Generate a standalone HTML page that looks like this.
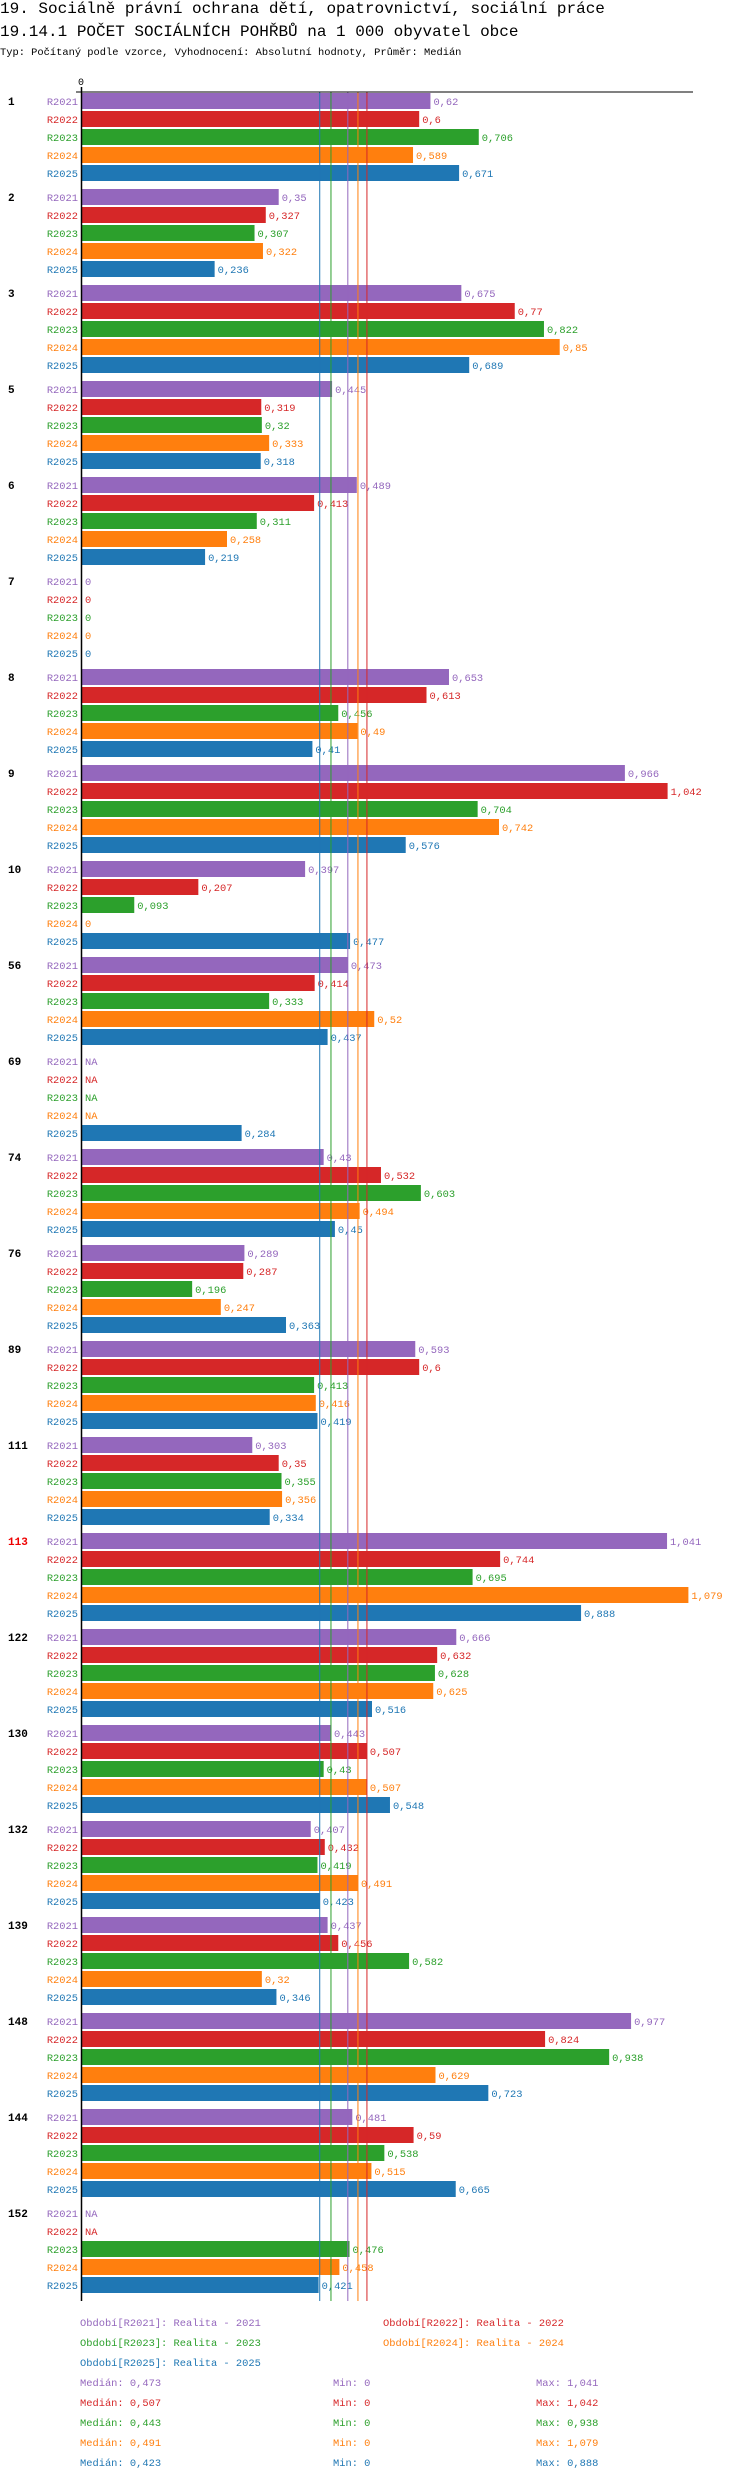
<!DOCTYPE html>
<html><head><meta charset="utf-8">
<style>
html,body{margin:0;padding:0;background:#fff;width:750px;height:2480px;overflow:hidden}
svg text{font-family:"Liberation Mono","DejaVu Sans Mono",monospace}
</style></head>
<body>
<svg id="chart" width="750" height="2480" xmlns="http://www.w3.org/2000/svg">
<text x="0" y="13" font-size="16">19. Sociálně právní ochrana dětí, opatrovnictví, sociální práce</text>
<text x="0" y="36" font-size="16">19.14.1 POČET SOCIÁLNÍCH POHŘBŮ na 1 000 obyvatel obce</text>
<text x="0" y="55" font-size="10.4">Typ: Počítaný podle vzorce, Vyhodnocení: Absolutní hodnoty, Průměr: Medián</text>
<text x="78" y="85" font-size="10">0</text>
<g id="bars"></g>
<g id="medians"></g>
<line x1="76" y1="92" x2="693" y2="92" stroke="#000" stroke-width="1"/>
<line x1="81.5" y1="87" x2="81.5" y2="2301" stroke="#000" stroke-width="1.5"/>
<g id="legend"></g>
</svg>
<script>
const groups = ["1","2","3","5","6","7","8","9","10","56","69","74","76","89","111","113","122","130","132","139","148","144","152"];
const series = ["R2021","R2022","R2023","R2024","R2025"];
const colors = ["#9467bd","#d62728","#2ca02c","#ff7f0e","#1f77b4"];
const v2021 = [0.62,0.35,0.675,0.445,0.489,0,0.653,0.966,0.397,0.473,null,0.43,0.289,0.593,0.303,1.041,0.666,0.443,0.407,0.437,0.977,0.481,null];
const v2022 = [0.6,0.327,0.77,0.319,0.413,0,0.613,1.042,0.207,0.414,null,0.532,0.287,0.6,0.35,0.744,0.632,0.507,0.432,0.456,0.824,0.59,null];
const v2023 = [0.706,0.307,0.822,0.32,0.311,0,0.456,0.704,0.093,0.333,null,0.603,0.196,0.413,0.355,0.695,0.628,0.43,0.419,0.582,0.938,0.538,0.476];
const v2024 = [0.589,0.322,0.85,0.333,0.258,0,0.49,0.742,0,0.52,null,0.494,0.247,0.416,0.356,1.079,0.625,0.507,0.491,0.32,0.629,0.515,0.458];
const v2025 = [0.671,0.236,0.689,0.318,0.219,0,0.41,0.576,0.477,0.437,0.284,0.45,0.363,0.419,0.334,0.888,0.516,0.548,0.423,0.346,0.723,0.665,0.421];
const medians = [0.473,0.507,0.443,0.491,0.423];
const mins = [0,0,0,0,0];
const maxs = [1.041,1.042,0.938,1.079,0.888];
const legendLabels = ["Období[R2021]: Realita - 2021","Období[R2022]: Realita - 2022","Období[R2023]: Realita - 2023","Období[R2024]: Realita - 2024","Období[R2025]: Realita - 2025"];

const NS="http://www.w3.org/2000/svg";
const X0=82, K=562, TOP=93, BAR_STEP=18, GROUP_STEP=96, BH=16;
const xs = v => X0 + v*K;
const fmt = v => String(v).replace('.',',');
const vals=[v2021,v2022,v2023,v2024,v2025];
function mk(tag,attrs,parent,txt){const e=document.createElementNS(NS,tag);for(const k in attrs)e.setAttribute(k,attrs[k]);if(txt!==undefined)e.textContent=txt;parent.appendChild(e);return e;}
const gb=document.getElementById('bars');
groups.forEach((g,gi)=>{
  const gy=TOP+gi*GROUP_STEP;
  const gl=mk('text',{x:8,y:gy+12,'font-size':11,'font-weight':'bold',fill:g==="113"?"#e00":"#000"},gb,g);
  
  
  series.forEach((s,si)=>{
    const y=gy+si*BAR_STEP;
    const v=vals[si][gi];
    const sl=mk('text',{x:78,y:y+12,'font-size':10.4,'text-anchor':'end',fill:colors[si]},gb,s);
    
    
    if(v!==null){
      const r=mk('rect',{x:X0,y:y,width:Math.max(0,xs(v)-X0),height:BH,fill:colors[si]},gb);
      
      
    }
    const t=mk('text',{x:(v===null?X0:xs(v))+3,y:y+12,'font-size':10.4,fill:colors[si]},gb,v===null?"NA":fmt(v));
    
    
  });
});
const gm=document.getElementById('medians');
medians.forEach((m,i)=>{
  const l=mk('line',{x1:xs(m),x2:xs(m),y1:92,y2:2301,stroke:colors[i],'stroke-width':1},gm);
  
  
});
const gl=document.getElementById('legend');
const legPos=[[80,2326],[383,2326],[80,2346],[383,2346],[80,2366]];
legendLabels.forEach((t,i)=>{
  const e=mk('text',{x:legPos[i][0],y:legPos[i][1],'font-size':10.4,fill:colors[i]},gl,t);
  
  
});
medians.forEach((m,i)=>{
  const y=2386+i*20;
  const a=mk('text',{x:80,y:y,'font-size':10.4,fill:colors[i]},gl,"Medián: "+fmt(m));
  
  
  const b=mk('text',{x:333,y:y,'font-size':10.4,fill:colors[i]},gl,"Min: "+fmt(mins[i]));
  
  
  const c=mk('text',{x:536,y:y,'font-size':10.4,fill:colors[i]},gl,"Max: "+fmt(maxs[i]));
  
  
});
</script>
</body></html>
